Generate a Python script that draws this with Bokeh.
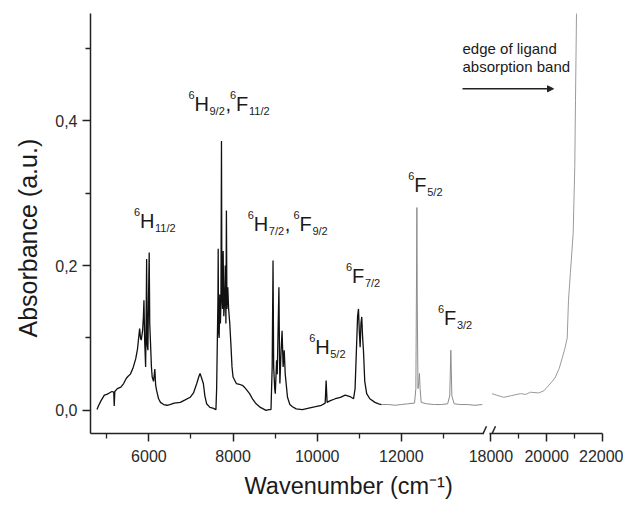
from bokeh.plotting import figure
from bokeh.layouts import row
from bokeh.models import (Range1d, FixedTicker, CustomJSTickFormatter, Label,
                          Arrow, NormalHead, Title)
from bokeh.embed import file_html
from bokeh.resources import INLINE

FONT = "Liberation Sans"
TXT = "#1a1a1a"
AX = "#222222"

# ---- data ----
# NIR part of the spectrum (black trace)
wn_nir = [4767, 4800, 4860, 4941, 5000, 5060, 5120, 5165, 5176, 5190, 5250, 5333,
          5400, 5460, 5506, 5560, 5620, 5686, 5730, 5765, 5780, 5800, 5818, 5850,
          5870, 5882, 5900, 5922, 5935, 5946, 5960, 5976, 5990, 6007, 6020, 6039,
          6060, 6078, 6110, 6141, 6160, 6181, 6230, 6275, 6350, 6431, 6500, 6600,
          6746, 6850, 6981, 7060, 7137, 7190, 7216, 7250, 7294, 7330, 7372, 7450,
          7520, 7593, 7610, 7625, 7640, 7647, 7655, 7670, 7685, 7700, 7712, 7725,
          7735, 7750, 7765, 7780, 7800, 7815, 7830, 7842, 7855, 7875, 7895, 7922,
          7950, 7975, 8000, 8078, 8150, 8235, 8300, 8393, 8470, 8549, 8650, 8784,
          8850, 8902, 8930, 8950, 8965, 8990, 9004, 9035, 9050, 9070, 9090, 9105,
          9113, 9140, 9165, 9190, 9216, 9240, 9294, 9350, 9412, 9500, 9647, 9800,
          9961, 10100, 10190, 10212, 10235, 10300, 10431, 10550, 10666, 10780,
          10864, 10900, 10930, 10960, 10981, 11000, 11020, 11040, 11059, 11080,
          11099, 11130, 11176, 11250, 11372, 11460, 11530]
abs_nir = [0.001, 0.006, 0.013, 0.021, 0.022, 0.024, 0.026, 0.025, 0.006, 0.026, 0.030, 0.032,
           0.037, 0.044, 0.047, 0.050, 0.058, 0.071, 0.085, 0.105, 0.113, 0.100, 0.097, 0.110,
           0.130, 0.152, 0.095, 0.060, 0.130, 0.209, 0.090, 0.083, 0.150, 0.218, 0.120, 0.092,
           0.060, 0.046, 0.040, 0.057, 0.035, 0.028, 0.016, 0.011, 0.008, 0.007, 0.008, 0.010,
           0.011, 0.014, 0.018, 0.024, 0.037, 0.047, 0.051, 0.045, 0.037, 0.020, 0.009, 0.004,
           0.003, 0.001, 0.030, 0.090, 0.150, 0.223, 0.110, 0.100, 0.160, 0.120, 0.150, 0.372,
           0.160, 0.140, 0.220, 0.130, 0.150, 0.200, 0.120, 0.276, 0.140, 0.170, 0.140, 0.120,
           0.090, 0.060, 0.046, 0.037, 0.036, 0.034, 0.030, 0.023, 0.015, 0.009, 0.004, 0.000,
           0.001, 0.001, 0.060, 0.207, 0.060, 0.030, 0.023, 0.069, 0.050, 0.110, 0.170, 0.070,
           0.037, 0.080, 0.110, 0.060, 0.083, 0.050, 0.018, 0.008, 0.005, 0.002, 0.001, 0.003,
           0.005, 0.007, 0.010, 0.041, 0.011, 0.013, 0.016, 0.018, 0.021, 0.019,
           0.016, 0.030, 0.080, 0.130, 0.140, 0.110, 0.087, 0.120, 0.129, 0.100,
           0.083, 0.040, 0.023, 0.016, 0.011, 0.009, 0.008]

# visible part before the axis break (grey trace)
wn_vis = [11530, 11700, 11850, 12000, 12150, 12313, 12345, 12360, 12369, 12378, 12395,
          12415, 12430, 12445, 12471, 12600, 12784, 12950, 13100, 13150, 13176, 13200,
          13255, 13400, 13569, 13750, 13925]
abs_vis = [0.008, 0.008, 0.007, 0.008, 0.009, 0.010, 0.030, 0.180, 0.280, 0.150, 0.030,
           0.040, 0.051, 0.030, 0.011, 0.009, 0.008, 0.008, 0.009, 0.020, 0.083, 0.020,
           0.009, 0.008, 0.008, 0.007, 0.008]

# after the axis break: edge of the ligand absorption band
wn_edge = [18040, 18200, 18462, 18700, 19060, 19250, 19418, 19714, 19900, 20015, 20200,
           20313, 20450, 20555, 20650, 20735, 20781, 20850, 20949, 21007, 21032, 21068, 21090]
abs_edge = [0.023, 0.021, 0.018, 0.020, 0.023, 0.022, 0.025, 0.024, 0.027, 0.032, 0.040,
            0.046, 0.058, 0.072, 0.085, 0.100, 0.152, 0.190, 0.245, 0.337, 0.428, 0.547, 0.62]

y_ticks = [0.0, 0.2, 0.4]
y_minor = [0.1, 0.3, 0.5]
x_ticks_left = [6000, 8000, 10000, 12000]
x_minor_left = [5000, 7000, 9000, 11000, 13000]
x_ticks_right = [18000, 20000, 22000]
x_minor_right = [19000, 21000]

y_range = Range1d(-0.032, 0.548)

left = figure(width=484, height=508, x_range=Range1d(4612, 13976), y_range=y_range,
              output_backend="svg", toolbar_location=None,
              min_border_left=86, min_border_right=0, min_border_top=13, min_border_bottom=75)
right = figure(width=168, height=508, x_range=Range1d(16731, 22000), y_range=y_range,
               output_backend="svg", toolbar_location=None, y_axis_location=None,
               min_border_left=0, min_border_right=21, min_border_top=13, min_border_bottom=75,
               margin=(0, 0, 0, -29))

for p in (left, right):
    p.grid.visible = False
    p.outline_line_color = None
right.background_fill_color = None
right.border_fill_color = None

left.line(wn_nir, abs_nir, line_color="#111111", line_width=1.3)
left.line(wn_vis, abs_vis, line_color="#8c8c8c", line_width=1.0)
right.line(wn_edge, abs_edge, line_color="#9a9a9a", line_width=1.0)

left.yaxis.ticker = FixedTicker(ticks=y_ticks, minor_ticks=y_minor)
left.yaxis.formatter = CustomJSTickFormatter(code="return tick.toFixed(1).replace('.', ',');")
left.xaxis.ticker = FixedTicker(ticks=x_ticks_left, minor_ticks=x_minor_left)
right.xaxis.ticker = FixedTicker(ticks=x_ticks_right, minor_ticks=x_minor_right)
right.xaxis.bounds = (17950, 22000)
for p in (left, right):
    p.xaxis.formatter = CustomJSTickFormatter(code="return tick.toFixed(0);")

for ax in (left.xaxis[0], left.yaxis[0], right.xaxis[0]):
    ax.axis_line_color = AX
    ax.axis_line_width = 1.5
    ax.major_tick_line_color = AX
    ax.major_tick_line_width = 1.5
    ax.major_tick_out = 8
    ax.major_tick_in = 0
    ax.minor_tick_line_color = AX
    ax.minor_tick_line_width = 1.3
    ax.minor_tick_out = 5
    ax.minor_tick_in = 0
    ax.major_label_text_font = FONT
    ax.major_label_text_font_size = "16px"
    ax.major_label_text_color = "#2a2a2a"
    ax.major_label_standoff = 5
left.xaxis.major_label_standoff = 8
right.xaxis.major_label_standoff = 8

# axis titles
left.add_layout(Title(text="Absorbance (a.u.)", align="left", offset=96, standoff=22,
                      text_font=FONT, text_font_size="25px", text_font_style="normal",
                      text_color=TXT), "left")
left.add_layout(Title(text="Wavenumber (cm⁻¹)", align="left", offset=154, standoff=12,
                      text_font=FONT, text_font_size="23.5px", text_font_style="normal",
                      text_color=TXT), "below")


def term(fig, x, y, letter, sub, comma=False):
    w = 15 if letter == "H" else 13
    fig.add_layout(Label(x=x, y=y, text=letter, text_font=FONT, text_font_size="20px",
                         text_color=TXT, text_baseline="middle"))
    fig.add_layout(Label(x=x, y=y, x_offset=-6, y_offset=9, text="6", text_font=FONT,
                         text_font_size="11px", text_color=TXT, text_baseline="middle"))
    fig.add_layout(Label(x=x, y=y, x_offset=w, y_offset=-7, text=sub, text_font=FONT,
                         text_font_size="11px", text_color=TXT, text_baseline="middle"))
    if comma:
        sw = 6 * len(sub) - 2
        fig.add_layout(Label(x=x, y=y, x_offset=w + sw, text=",", text_font=FONT,
                             text_font_size="20px", text_color=TXT, text_baseline="middle"))


term(left, 5789, 0.262, "H", "11/2")
term(left, 7083, 0.4236, "H", "9/2", comma=True)
term(left, 8071, 0.4236, "F", "11/2")
term(left, 8494, 0.258, "H", "7/2", comma=True)
term(left, 9577, 0.258, "F", "9/2")
term(left, 9953, 0.0881, "H", "5/2")
term(left, 10824, 0.186, "F", "7/2")
term(left, 12306, 0.3105, "F", "5/2")
term(left, 13012, 0.128, "F", "3/2")

# ligand band annotation
right.add_layout(Label(x=16982, y=0.4997, text="edge of ligand", text_font=FONT,
                       text_font_size="15px", text_color=TXT, text_baseline="middle"))
right.add_layout(Label(x=16982, y=0.4748, text="absorption band", text_font=FONT,
                       text_font_size="15px", text_color=TXT, text_baseline="middle"))
right.add_layout(Arrow(x_start=16982, y_start=0.444, x_end=20244, y_end=0.444,
                       line_color=AX, line_width=1.5,
                       end=NormalHead(size=6, fill_color=AX, line_color=AX)))

# axis break marks
right.add_layout(Arrow(x_start=17591, y_start=-0.043, x_end=17842, y_end=-0.022,
                       line_color=AX, line_width=1.5, end=None))
right.add_layout(Arrow(x_start=17914, y_start=-0.043, x_end=18165, y_end=-0.022,
                       line_color=AX, line_width=1.5, end=None))

layout = row(left, right)
open("out.html", "w").write(file_html(layout, INLINE))
